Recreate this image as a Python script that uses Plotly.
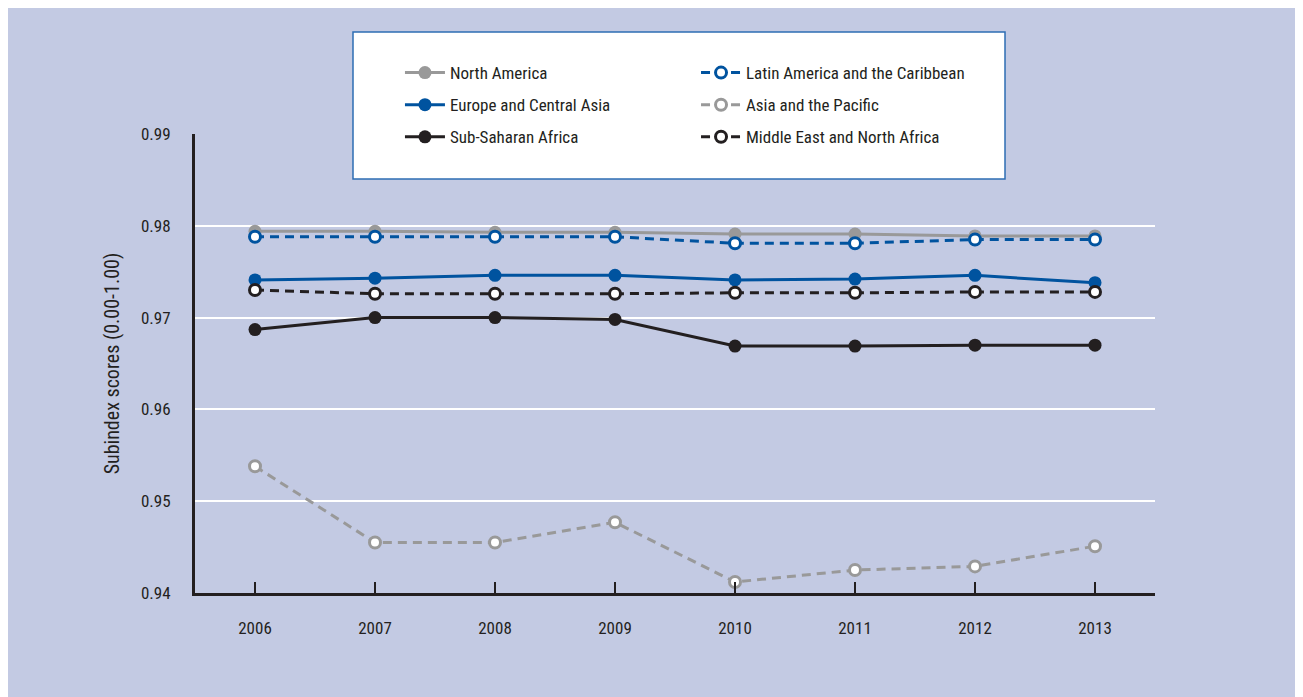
import plotly.graph_objects as go

years = [2006, 2007, 2008, 2009, 2010, 2011, 2012, 2013]

north_america = [0.9794, 0.9794, 0.9793, 0.9793, 0.9791, 0.9791, 0.9789, 0.9789]
latin_america = [0.9788, 0.9788, 0.9788, 0.9788, 0.9781, 0.9781, 0.9785, 0.9785]
europe_central_asia = [0.9741, 0.9743, 0.9746, 0.9746, 0.9741, 0.9742, 0.9746, 0.9738]
asia_pacific = [0.9538, 0.9455, 0.9455, 0.9477, 0.9412, 0.9425, 0.9429, 0.9451]
sub_saharan_africa = [0.9687, 0.9700, 0.9700, 0.9698, 0.9669, 0.9669, 0.9670, 0.9670]
mena = [0.9730, 0.9726, 0.9726, 0.9726, 0.9727, 0.9727, 0.9728, 0.9728]

y_ticks = [0.94, 0.95, 0.96, 0.97, 0.98, 0.99]
y_tick_labels = ["0.94", "0.95", "0.96", "0.97", "0.98", "0.99"]

GRAY = "#999999"
BLUE = "#00539f"
BLACK = "#231f20"
BG = "#c3cae3"
FONT = "Liberation Sans Narrow, Roboto Condensed, Arial Narrow, Roboto, sans-serif"

# (name, values, colour, dash, filled, legend)
series = [
    ("North America", north_america, GRAY, "solid", True, "legend"),
    ("Europe and Central Asia", europe_central_asia, BLUE, "solid", True, "legend"),
    ("Sub-Saharan Africa", sub_saharan_africa, BLACK, "solid", True, "legend"),
    ("Latin America and the Caribbean", latin_america, BLUE, "9px,6px", False, "legend2"),
    ("Asia and the Pacific", asia_pacific, GRAY, "9px,6px", False, "legend2"),
    ("Middle East and North Africa", mena, BLACK, "9px,6px", False, "legend2"),
]

fig = go.Figure()
for i, (name, vals, col, dash, filled, lg) in enumerate(series):
    fig.add_trace(go.Scatter(
        x=years, y=vals, name=name, mode="lines+markers",
        line=dict(color=col, width=3, dash=dash),
        marker=dict(size=13 if filled else 11, color=col if filled else "white",
                    line=dict(color=col, width=0 if filled else 3)),
        legend=lg, legendgroup=name,
    ))

legend_common = dict(
    orientation="v", yanchor="top", xanchor="left",
    bgcolor="rgba(0,0,0,0)", borderwidth=0,
    font=dict(family=FONT, size=17, color="#231f20"),
    tracegroupgap=7, itemwidth=40, traceorder="grouped",
)

fig.update_layout(
    width=1295, height=689,
    paper_bgcolor=BG, plot_bgcolor=BG,
    margin=dict(l=187, r=148, t=126, b=104),
    font=dict(family=FONT, size=17, color="#231f20"),
    showlegend=True,
    legend=dict(x=0.2135, y=1.172, **legend_common),
    legend2=dict(x=0.5219, y=1.172, **legend_common),
    shapes=[dict(type="rect", xref="paper", yref="paper",
                 x0=(353 - 195) / 960, x1=(1005 - 195) / 960,
                 y0=(593 - 179) / 459, y1=(593 - 32) / 459,
                 fillcolor="white", line=dict(color="#2e6db4", width=1.5),
                 layer="above")],
)

fig.update_xaxes(
    range=[2005.5, 2013.5], tickvals=years, ticktext=[str(y) for y in years],
    showgrid=False, zeroline=False,
    showline=True, linecolor=BLACK, linewidth=3,
    ticks="inside", ticklen=11, tickwidth=2, tickcolor=BLACK,
    ticklabelstandoff=18,
    tickfont=dict(family=FONT, size=17, color="#231f20"),
)
fig.update_yaxes(
    range=[0.94, 0.99], tickvals=y_ticks, ticktext=y_tick_labels,
    showgrid=True, gridcolor="white", gridwidth=2, zeroline=False,
    showline=True, linecolor=BLACK, linewidth=3, ticks="",
    ticklabelstandoff=18,
    tickfont=dict(family=FONT, size=17, color="#231f20"),
    title=dict(text="Subindex scores (0.00-1.00)", standoff=16,
               font=dict(family=FONT, size=20, color="#231f20")),
)

fig.write_html("out.html")
